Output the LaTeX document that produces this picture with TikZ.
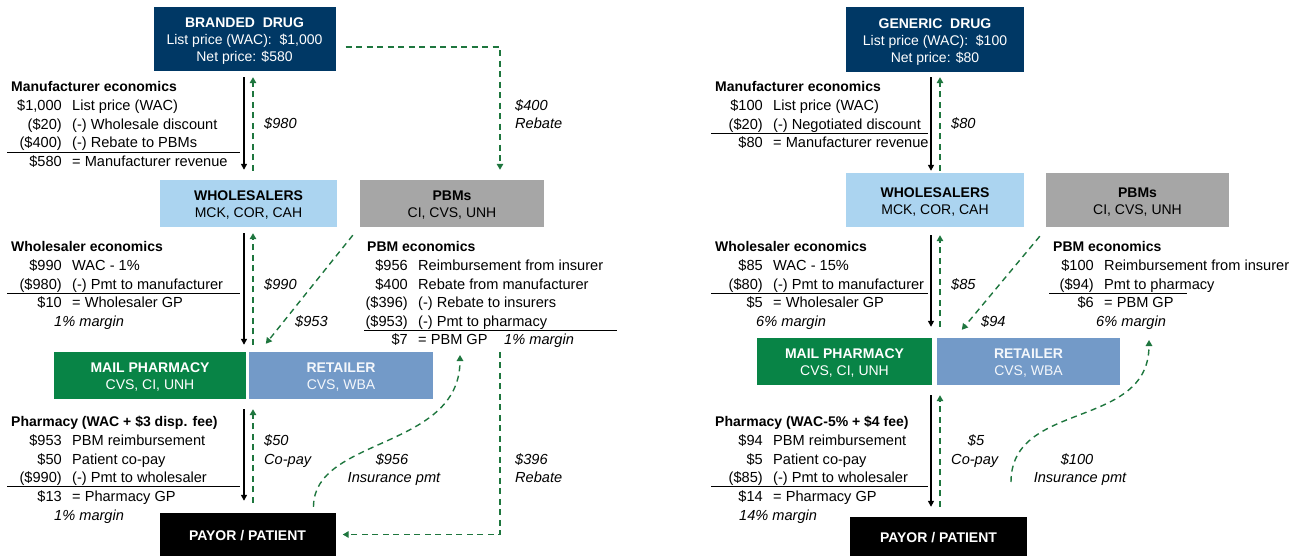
\documentclass[tikz,border=0pt]{standalone}
\usepackage{fontspec}
\setmainfont{Liberation Sans}
\usetikzlibrary{arrows.meta,calc,positioning}

\begin{document}
\begin{tikzpicture}[x=1pt,y=-1pt]
\definecolor{drug navy}{RGB}{0,56,101}
\definecolor{whl blue}{RGB}{171,212,240}
\definecolor{pbm grey}{RGB}{166,166,166}
\definecolor{mail green}{RGB}{8,132,70}
\definecolor{ret blue}{RGB}{115,154,200}
\definecolor{cash green}{RGB}{30,118,62}
\tikzset{
     txt/.style={inner sep=0pt, font=\fontsize{14.6}{17}\selectfont},
     head/.style={inner sep=0pt, anchor=base west, font=\bfseries\fontsize{14}{17}\selectfont},
     flow/.style={inner sep=0pt, font=\itshape\fontsize{14.6}{17}\selectfont},
     party/.style={inner sep=0pt, font=\fontsize{14}{17}\selectfont},
     goods/.style={line width=1.4pt, -{Triangle[length=6pt,width=6pt]}},
     cash/.style={draw=cash green, line width=1.4pt, dash pattern=on 6pt off 4.5pt,
                  -{Triangle[length=6pt,width=6.5pt]}, fill=none},
     sep/.style={line width=0.9pt}}

% text of a box, a little lowered
\def\ptext#1{\raisebox{-2.5pt}[\height][\depth]{\begin{tabular}{@{}c@{}}#1\end{tabular}}}
% one line of an economics table: name, right edge of amount, centre y, amount, text
\def\erow#1#2#3#4#5{%
  \node[txt, anchor=base east] (#1a) at (#2,#3+5) {#4};
  \node[txt, anchor=base west] (#1b) at (#2+10,#3+5) {#5};}

\useasboundingbox (0,0) rectangle (1299,556);

%%%%%%%%%%%%%%%% BRANDED %%%%%%%%%%%%%%%%

% The boxes
\node (brandL) [party, fill=drug navy, text=white, minimum width=182, minimum height=64] at (244.5,39)
  {\ptext{\textbf{BRANDED\ \ DRUG}\\List price (WAC):\ \ \$1,000\\Net price: \$580}};
\node (whL) [party, fill=whl blue, minimum width=177, minimum height=47] at (248.5,203.5)
  {\ptext{\textbf{WHOLESALERS}\\MCK, COR, CAH}};
\node (pbmL) [party, fill=pbm grey, minimum width=184, minimum height=47] at (452,203.5)
  {\ptext{\textbf{PBMs}\\CI, CVS, UNH}};
\node (mailL) [party, fill=mail green, text=white, minimum width=192, minimum height=47] at (150,375.5)
  {\ptext{\textbf{MAIL PHARMACY}\\CVS, CI, UNH}};
\node (retL) [party, fill=ret blue, text=white!92!ret blue, minimum width=184, minimum height=47] at (341,375.5)
  {\ptext{\textbf{RETAILER}\\CVS, WBA}};
\node (payL) [party, fill=black, text=white, minimum width=176, minimum height=43] at (247.5,534.5)
  {\ptext{\textbf{PAYOR\ /\ PATIENT}}};

% The tables
\node (mfrL) [head] at (11,92) {Manufacturer economics};
\erow{mL1}{62}{106}{\$1,000}{List price (WAC)}
\erow{mL2}{62}{125}{(\$20)}{(-) Wholesale discount}
\erow{mL3}{62}{143}{(\$400)}{(-) Rebate to PBMs}
\draw[sep] (7,152) -- (240,152);
\erow{mL4}{62}{162}{\$580}{= Manufacturer revenue}

\node (wslL) [head] at (11,252) {Wholesaler economics};
\erow{wL1}{62}{266}{\$990}{WAC - 1\%}
\erow{wL2}{62}{284}{(\$980)}{(-) Pmt to manufacturer}
\draw[sep] (7,293) -- (240,293);
\erow{wL3}{62}{303}{\$10}{= Wholesaler GP}
\node (wL4) [flow, anchor=base west] at (54,326) {1\% margin};

\node (pbeL) [head] at (367,252) {PBM economics};
\erow{pL1}{408}{266}{\$956}{Reimbursement from insurer}
\erow{pL2}{408}{284}{\$400}{Rebate from manufacturer}
\erow{pL3}{408}{303}{(\$396)}{(-) Rebate to insurers}
\erow{pL4}{408}{321}{(\$953)}{(-) Pmt to pharmacy}
\draw[sep] (364,330) -- (617,330);
\erow{pL5}{408}{339}{\$7}{= PBM GP}
\node (pL6) [flow, anchor=base west] at (504,344) {1\% margin};

\node (phL) [head] at (11,426) {Pharmacy (WAC + \$3 disp. fee)};
\erow{hL1}{62}{440}{\$953}{PBM reimbursement}
\erow{hL2}{62}{459}{\$50}{Patient co-pay}
\erow{hL3}{62}{477}{(\$990)}{(-) Pmt to wholesaler}
\draw[sep] (7,486) -- (240,486);
\erow{hL4}{62}{496}{\$13}{= Pharmacy GP}
\node (hL5) [flow, anchor=base west] at (54,520) {1\% margin};

% The arrows
\coordinate (downL) at (244,0);
\coordinate (upL) at (253,0);
\coordinate (rebL) at (500,0);
\coordinate (insL) at (460,355);
\draw[goods] ([yshift=-6pt]downL |- brandL.south) -- ([yshift=10pt]downL |- whL.north);
\draw[cash] ([yshift=9pt]upL |- whL.north) -- ([yshift=-6pt]upL |- brandL.south);
\draw[goods] ([yshift=-6pt]downL |- whL.south) -- ([yshift=7pt]downL |- mailL.north);
\draw[cash] ([yshift=7pt]upL |- mailL.north) -- ([yshift=-6pt]upL |- whL.south);
\draw[goods] ([yshift=-10pt]downL |- mailL.south) -- ([yshift=12pt]downL |- payL.north);
\draw[cash] ([yshift=10pt]upL |- payL.north) -- ([yshift=-10pt]upL |- mailL.south);
\draw[cash] ([shift={(-7,8)}]pbmL.south west) -- ([shift={(17,-8)}]retL.north west);
\draw[cash] ([shift={(10,8)}]brandL.east) -| ([yshift=10pt]rebL |- pbmL.north);
\draw[cash] (rebL |- retL.north) |- ([xshift=7pt]payL.east);
\draw[cash] ([shift={(66,-6)}]payL.north) .. controls +(0,-70) and +(0,95) .. (insL);

% The flow labels
\node (fL1) [flow, anchor=base west] at (515,111) {\$400};
\node (fL2) [flow, anchor=base west] at (515,129) {Rebate};
\node (fL3) [flow, anchor=base west] at (264,129) {\$980};
\node (fL4) [flow, anchor=base west] at (264,289) {\$990};
\node (fL5) [flow, anchor=base west] at (295,326) {\$953};
\node (fL6) [flow, anchor=base west] at (264,445) {\$50};
\node (fL7) [flow, anchor=base west] at (264,464) {Co-pay};
\node (fL8) [flow, anchor=base] at (392,464) {\$956};
\node (fL9) [flow, anchor=base] at (394,482) {Insurance pmt};
\node (fL10) [flow, anchor=base west] at (515,464) {\$396};
\node (fL11) [flow, anchor=base west] at (515,482) {Rebate};

%%%%%%%%%%%%%%%% GENERIC %%%%%%%%%%%%%%%%

% The boxes
\node (genR) [party, fill=drug navy, text=white, minimum width=178, minimum height=65] at (935,39.5)
  {\ptext{\textbf{GENERIC\ \ DRUG}\\List price (WAC):\ \ \$100\\Net price: \$80}};
\node (whR) [party, fill=whl blue, minimum width=178, minimum height=54] at (935,200)
  {\ptext{\textbf{WHOLESALERS}\\MCK, COR, CAH}};
\node (pbmR) [party, fill=pbm grey, minimum width=183, minimum height=54] at (1137.5,200)
  {\ptext{\textbf{PBMs}\\CI, CVS, UNH}};
\node (mailR) [party, fill=mail green, text=white, minimum width=175, minimum height=47] at (844.5,361.5)
  {\ptext{\textbf{MAIL PHARMACY}\\CVS, CI, UNH}};
\node (retR) [party, fill=ret blue, text=white!92!ret blue, minimum width=183, minimum height=47] at (1028.5,361.5)
  {\ptext{\textbf{RETAILER}\\CVS, WBA}};
\node (payR) [party, fill=black, text=white, minimum width=177, minimum height=39] at (938.5,536.5)
  {\ptext{\textbf{PAYOR\ /\ PATIENT}}};

% The tables
\node (mfrR) [head] at (715,92) {Manufacturer economics};
\erow{mR1}{763}{106}{\$100}{List price (WAC)}
\erow{mR2}{763}{125}{(\$20)}{(-) Negotiated discount}
\draw[sep] (711,133) -- (928,133);
\erow{mR3}{763}{143}{\$80}{= Manufacturer revenue}

\node (wslR) [head] at (715,252) {Wholesaler economics};
\erow{wR1}{763}{266}{\$85}{WAC - 15\%}
\erow{wR2}{763}{284}{(\$80)}{(-) Pmt to manufacturer}
\draw[sep] (711,293) -- (928,293);
\erow{wR3}{763}{303}{\$5}{= Wholesaler GP}
\node (wR4) [flow, anchor=base west] at (756,326) {6\% margin};

\node (pbeR) [head] at (1053,252) {PBM economics};
\erow{pR1}{1094}{266}{\$100}{Reimbursement from insurer}
\erow{pR2}{1094}{284}{(\$94)}{Pmt to pharmacy}
\draw[sep] (1049,293) -- (1187,293);
\erow{pR3}{1094}{303}{\$6}{= PBM GP}
\node (pR4) [flow, anchor=base west] at (1096,326) {6\% margin};

\node (phR) [head] at (715,426) {Pharmacy (WAC-5\% + \$4 fee)};
\erow{hR1}{763}{440}{\$94}{PBM reimbursement}
\erow{hR2}{763}{459}{\$5}{Patient co-pay}
\erow{hR3}{763}{477}{(\$85)}{(-) Pmt to wholesaler}
\draw[sep] (711,486) -- (928,486);
\erow{hR4}{763}{496}{\$14}{= Pharmacy GP}
\node (hR5) [flow, anchor=base west] at (739,520) {14\% margin};

% The arrows
\coordinate (downR) at (931,0);
\coordinate (upR) at (940,0);
\coordinate (insRa) at (1011,482);
\coordinate (insRb) at (1149,340);
\draw[goods] ([yshift=-5pt]downR |- genR.south) -- ([yshift=2pt]downR |- whR.north);
\draw[cash] ([yshift=2pt]upR |- whR.north) -- ([yshift=-5pt]upR |- genR.south);
\draw[goods] ([yshift=-8pt]downR |- whR.south) -- ([yshift=11pt]downR |- mailR.north);
\draw[cash] ([yshift=11pt]upR |- mailR.north) -- ([yshift=-8pt]upR |- whR.south);
\draw[goods] ([yshift=-10pt]downR |- mailR.south) -- ([yshift=10pt]downR |- payR.north);
\draw[cash] ([yshift=10pt]upR |- payR.north) -- ([yshift=-10pt]upR |- mailR.south);
\draw[cash] ([shift={(-6,9)}]pbmR.south west) -- ([shift={(25,-8)}]retR.north west);
\draw[cash] (insRa) .. controls +(0,-82) and +(0,90) .. (insRb);

% The flow labels
\node (fR1) [flow, anchor=base west] at (951,129) {\$80};
\node (fR2) [flow, anchor=base west] at (951,289) {\$85};
\node (fR3) [flow, anchor=base west] at (981,326) {\$94};
\node (fR4) [flow, anchor=base] at (976,445) {\$5};
\node (fR5) [flow, anchor=base west] at (951,464) {Co-pay};
\node (fR6) [flow, anchor=base] at (1077,464) {\$100};
\node (fR7) [flow, anchor=base] at (1080,482) {Insurance pmt};
\end{tikzpicture}
\end{document}
